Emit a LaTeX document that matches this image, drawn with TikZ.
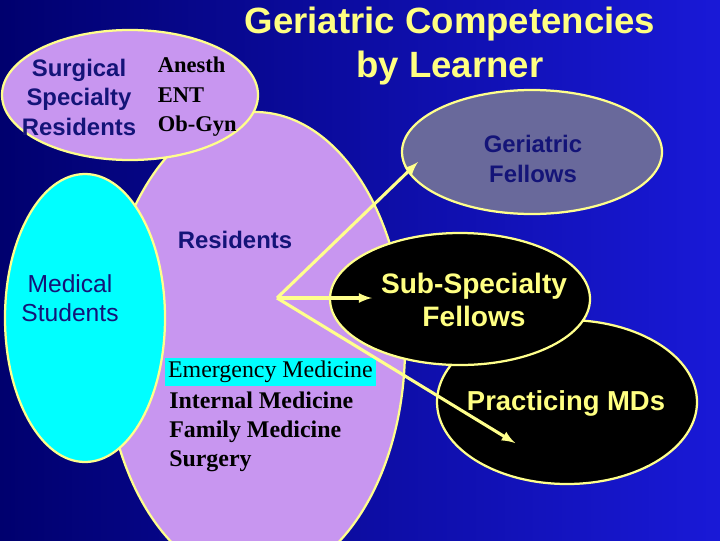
\documentclass[tikz,border=0pt]{standalone}
\usepackage{fontspec}
\setmainfont{Liberation Serif}
\setsansfont{Liberation Sans}
\begin{document}
\begin{tikzpicture}[x=0.025cm,y=-0.025cm,
  blob/.style={draw={rgb,255:red,255;green,255;blue,140},line width=1.6pt},
  arr/.style={draw={rgb,255:red,255;green,255;blue,140},line width=2.2pt,-latex},
  lbl/.style={font=\sffamily\bfseries,align=center,text=navy},
  ylbl/.style={font=\sffamily\bfseries,align=center,text={rgb,255:red,255;green,255;blue,130}}]
\definecolor{navy}{RGB}{20,20,120}
\definecolor{lilac}{RGB}{200,150,240}
\definecolor{slate}{RGB}{105,105,155}
\definecolor{aqua}{RGB}{0,255,255}
\shade[left color={rgb,255:red,0;green,0;blue,110},right color={rgb,255:red,25;green,25;blue,215}] (0,0) rectangle (720,540);
\useasboundingbox (0,0) rectangle (720,540);
\begin{scope}
\clip (0,0) rectangle (720,540);
\path[blob,fill=lilac] (255,347) ellipse [x radius=150,y radius=235];
\path[blob,fill=lilac] (130,95) ellipse [x radius=128,y radius=65];
\path[blob,fill=aqua] (85,318) ellipse [x radius=80,y radius=144];
\path[blob,fill=slate] (532,152) ellipse [x radius=130,y radius=62];
\path[blob,fill=black] (567,402) ellipse [x radius=130,y radius=82];
\path[blob,fill=black] (460,299) ellipse [x radius=130,y radius=66];
\end{scope}
\node[ylbl,font=\sffamily\bfseries\fontsize{26}{31}\selectfont] (title) at (450,46) {Geriatric Competencies\\by Learner};
\node[lbl,font=\sffamily\bfseries\fontsize{17}{21}\selectfont] (surg) at (79,97) {Surgical\\Specialty\\Residents};
\node[font=\bfseries\fontsize{16}{21}\selectfont,align=left,anchor=west] (sub) at (153,97) {Anesth\\ENT\\Ob-Gyn};
\node[lbl,font=\sffamily\bfseries\fontsize{17}{21}\selectfont] (gf) at (533,159) {Geriatric\\Fellows};
\node[lbl,font=\sffamily\bfseries\fontsize{17}{21}\selectfont] (res) at (235,240) {Residents};
\node[lbl,font=\sffamily\fontsize{17.5}{21}\selectfont] (ms) at (70,298) {Medical\\Students};
\node[ylbl,font=\sffamily\bfseries\fontsize{20}{24}\selectfont] (ssf) at (474,300) {Sub-Specialty\\Fellows};
\node[ylbl,font=\sffamily\bfseries\fontsize{19.5}{24}\selectfont] (pmd) at (566,403) {Practicing MDs};
\node[fill=aqua,anchor=west,inner sep=2pt,font=\fontsize{17}{20}\selectfont] (em) at (165,372) {Emergency Medicine};
\node[anchor=north west,align=left,font=\bfseries\fontsize{17}{20.6}\selectfont,inner sep=0pt] (list) at (169,392) {Internal Medicine\\Family Medicine\\Surgery};
\coordinate (o) at (277,298);
\coordinate (e1) at (418,162);
\coordinate (e2) at (372,298);
\coordinate (e3) at (515,443);
\draw[arr] (o) -- (e1);
\draw[arr] (o) -- (e2);
\draw[arr] (o) -- (e3);
\end{tikzpicture}
\end{document}
